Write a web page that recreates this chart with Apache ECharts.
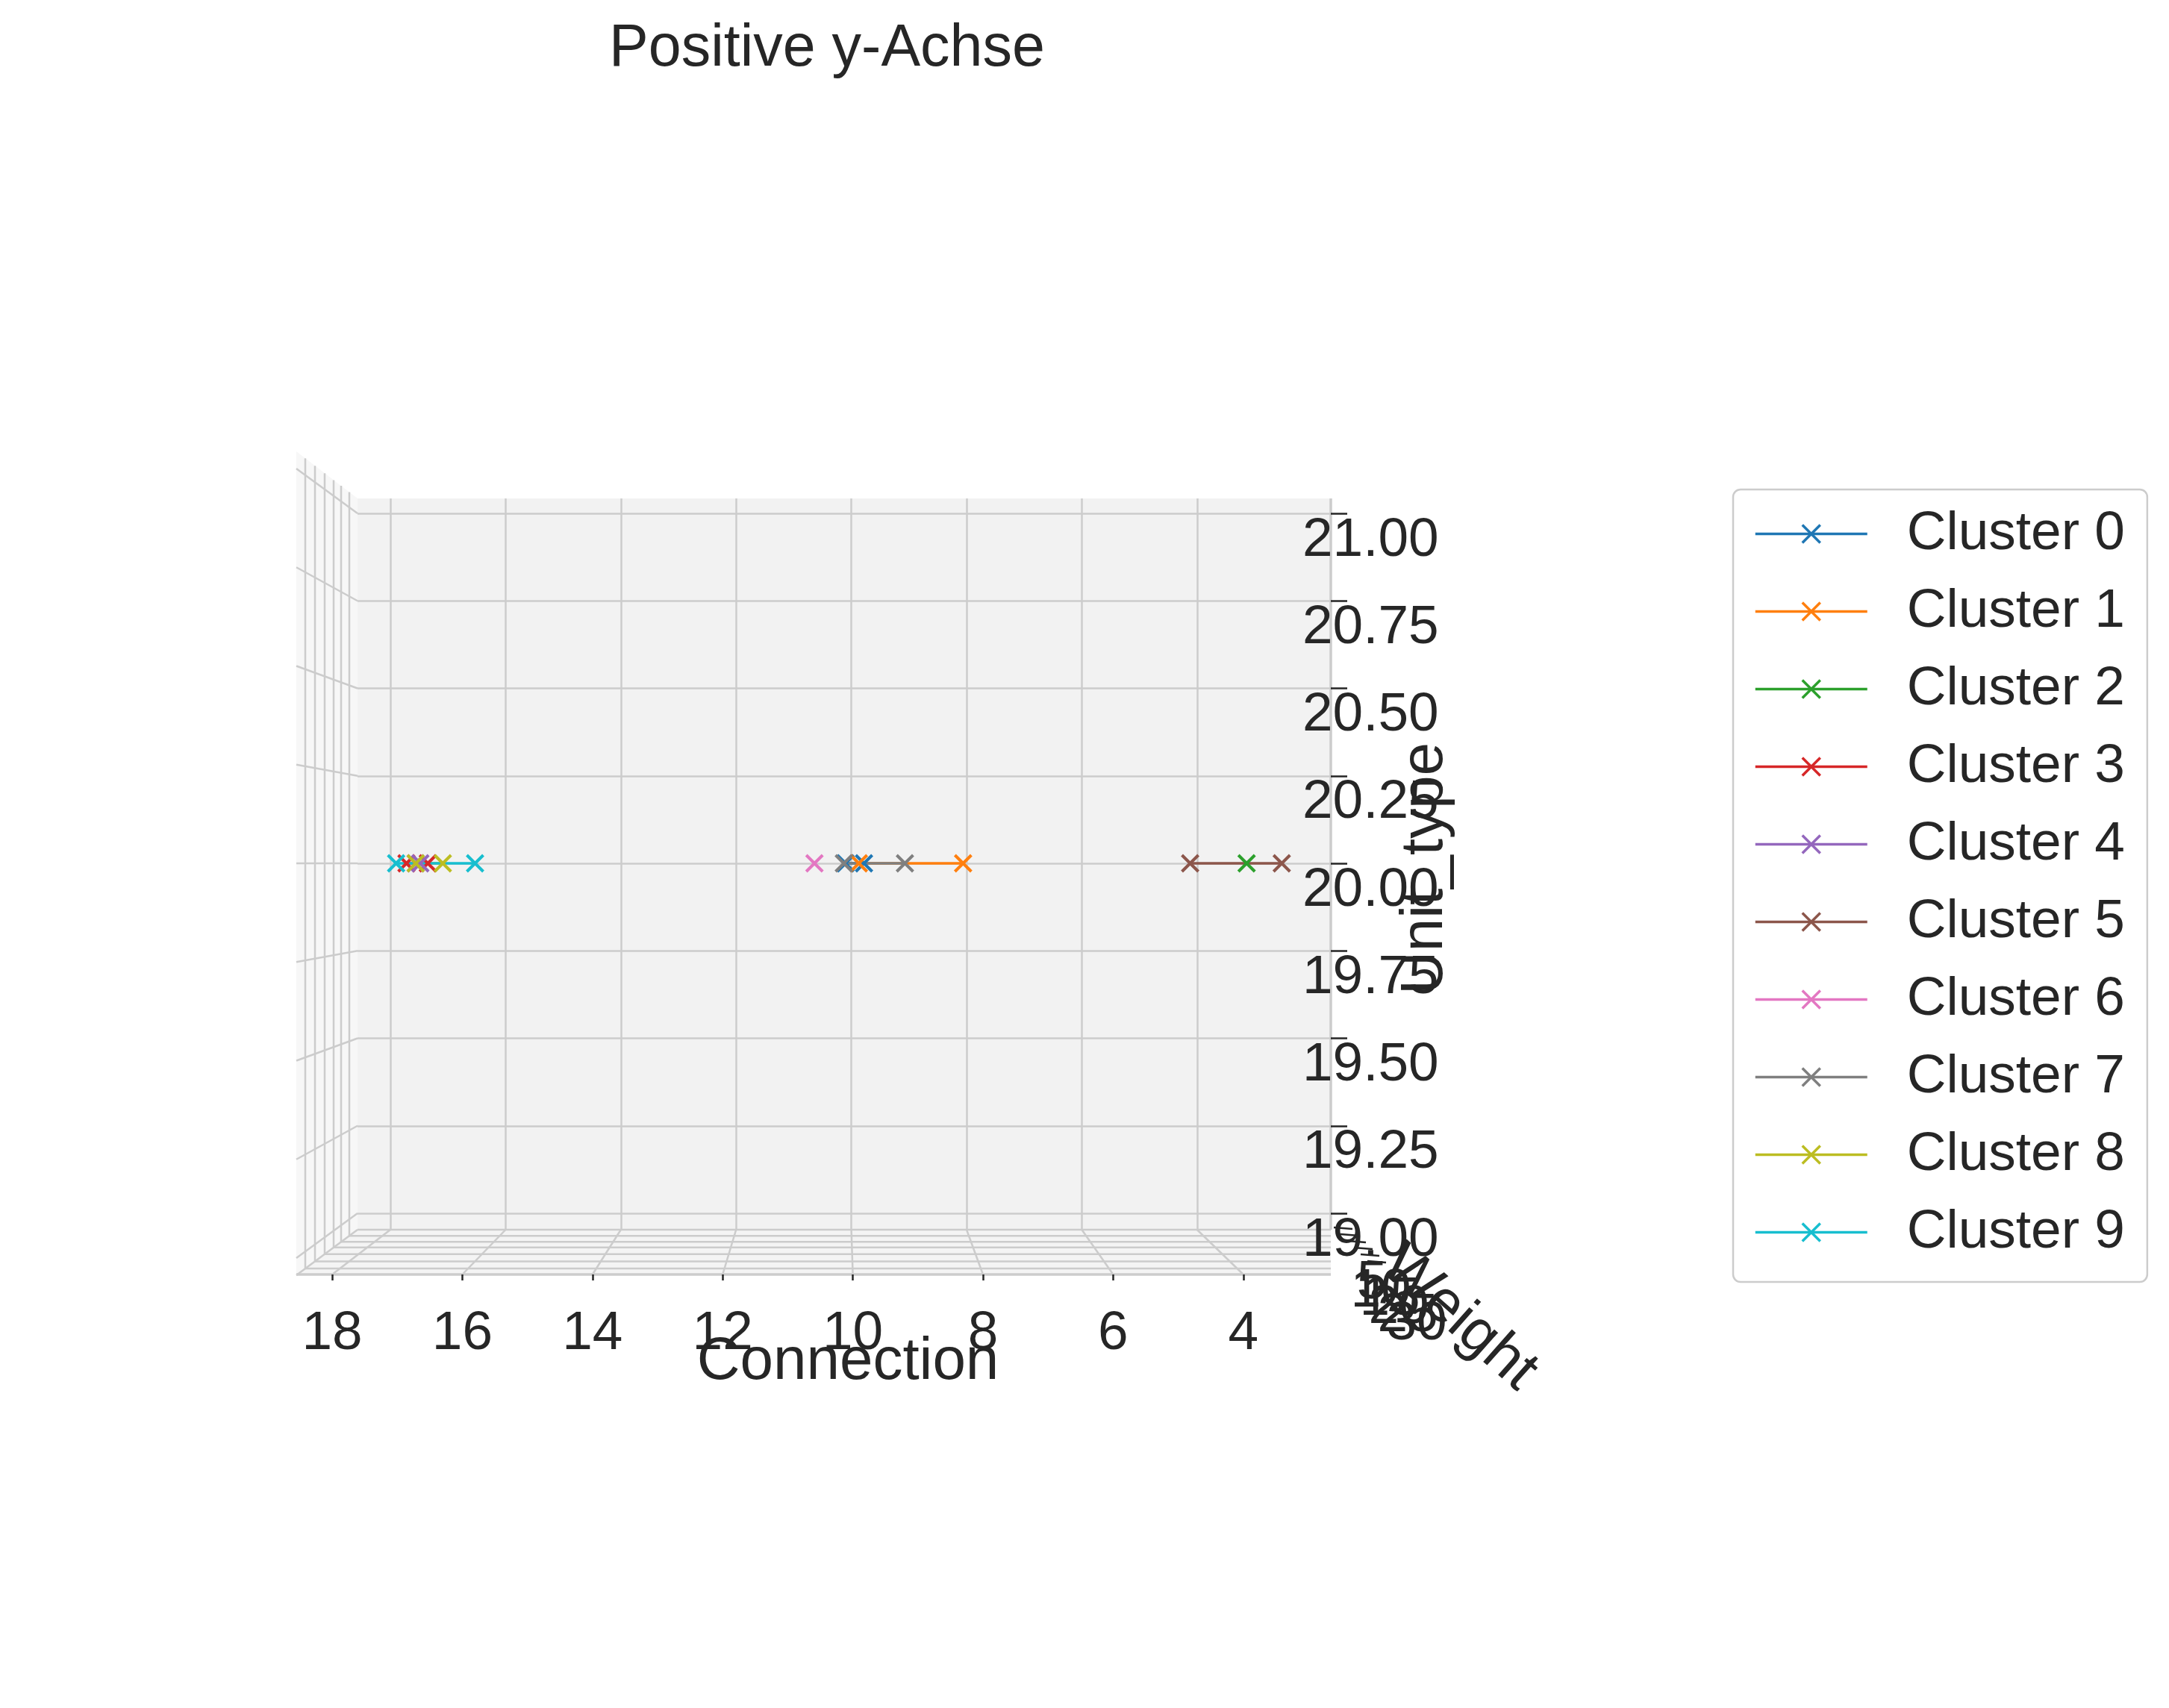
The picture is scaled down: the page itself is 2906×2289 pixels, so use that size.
<!DOCTYPE html>
<html>
<head>
<meta charset="utf-8">
<script src="https://cdn.jsdelivr.net/npm/echarts@6/dist/echarts.min.js"></script>
<style>
  html, body { margin: 0; padding: 0; background: #fff; }
  #chart { width: 2906px; height: 2289px; }
</style>
</head>
<body>
<div id="chart"></div>
<script>
// ---- data ----
var clusterNames = ['Cluster 0', 'Cluster 1', 'Cluster 2', 'Cluster 3', 'Cluster 4',
                    'Cluster 5', 'Cluster 6', 'Cluster 7', 'Cluster 8', 'Cluster 9'];
var clusterColors = ['#1f77b4', '#ff7f0e', '#2ca02c', '#d62728', '#9467bd',
                     '#8c564b', '#e377c2', '#7f7f7f', '#bcbd22', '#17becf'];
// Connection value of each point, per cluster
var connection0 = [10.10, 9.78];
var connection1 = [9.87, 8.06];
var connection2 = [3.14];
var connection3 = [17.72, 17.35];
var connection4 = [17.56, 17.48];
var connection5 = [4.12, 2.53];
var connection6 = [10.64];
var connection7 = [10.13, 9.07];
var connection8 = [17.56, 17.09];
var connection9 = [17.90, 16.53];
var unitType = 20; // every point sits on Unit_type = 20
var connectionTicks = [18, 16, 14, 12, 10, 8, 6, 4];
var unitTypeTicks = [21.00, 20.75, 20.50, 20.25, 20.00, 19.75, 19.50, 19.25, 19.00];
var weightTicks = ['5', '10', '15', '20', '25', '30'];

var allConnection = [connection0, connection1, connection2, connection3, connection4,
                     connection5, connection6, connection7, connection8, connection9];

// ---- layout of the fake 3d box (pixels) ----
var FONT = '"Liberation Sans", Arial, sans-serif';
var TXT = '#262626';
var GRIDC = '#cccccc';
var paneL = 479, paneR = 1783, paneT = 668, paneB = 1648;
var wallL = 397, wallTop = 605, wallBot = 1709, frontB = 1708;
var back18 = 523, backUnit = 77.2;   // back plane x scale
var front18 = 445, frontUnit = 87.2; // front edge x scale
var yTop = 688, yBot = 1626;         // 21.00 / 19.00 on back plane
var yMid = 1157, wallStretch = 1.128;
var depthX = [468, 457, 447, 435, 422, 409];

var xMaxA = 18 + (back18 - paneL) / backUnit;
var xMinA = 18 - (paneR - back18) / backUnit;

function wallTopY(x) { return wallTop + (x - wallL) * (paneT - wallTop) / (paneL - wallL); }
function wallBotY(x) { return wallBot - (x - wallL) * (wallBot - paneB) / (paneL - wallL); }
function lineEl(x1, y1, x2, y2, color, w, z) {
  return { type: 'line', silent: true, z: z, shape: { x1: x1, y1: y1, x2: x2, y2: y2 },
           style: { stroke: color, lineWidth: w } };
}

var deco = [];
// pane fills
deco.push({ type: 'rect', silent: true, z: -3, shape: { x: paneL, y: paneT, width: paneR - paneL, height: paneB - paneT },
            style: { fill: '#f2f2f2' } });
deco.push({ type: 'polygon', silent: true, z: -3,
            shape: { points: [[wallL, wallTop], [paneL, paneT], [paneL, paneB], [wallL, wallBot]] },
            style: { fill: '#f7f7f7' } });
deco.push({ type: 'polygon', silent: true, z: -3,
            shape: { points: [[wallL, wallBot], [paneL, paneB], [paneR, paneB], [paneR, frontB]] },
            style: { fill: '#f4f4f4' } });
// left wall: continuation of the Unit_type grid lines
unitTypeTicks.forEach(function (t) {
  var by = yTop + (21 - t) / 2 * (yBot - yTop);
  var fy = yMid + (by - yMid) * wallStretch;
  deco.push(lineEl(paneL, by, wallL, fy, GRIDC, 2.5, -1));
});
// left wall and floor: Weight grid lines
depthX.forEach(function (x) {
  deco.push(lineEl(x, wallTopY(x), x, wallBotY(x), GRIDC, 2.5, -1));
  deco.push(lineEl(x, wallBotY(x), paneR, wallBotY(x), GRIDC, 2.5, -1));
});
deco.push(lineEl(paneL, paneB, paneR, paneB, GRIDC, 2.5, -1));
deco.push(lineEl(wallL, frontB, paneR, frontB, GRIDC, 3.5, -1));
deco.push(lineEl(wallL, wallBot, paneL, paneB, GRIDC, 2.5, -1));
deco.push(lineEl(paneR, paneT, paneR, paneB, GRIDC, 3.5, -1));
// floor: Connection grid lines running to the front ticks
connectionTicks.forEach(function (v) {
  deco.push(lineEl(back18 + (18 - v) * backUnit, paneB, front18 + (18 - v) * frontUnit, frontB, GRIDC, 2.5, -1));
});
// Weight axis: crowded ticks and labels at the corner
weightTicks.forEach(function (lab, k) {
  deco.push(lineEl(1787 + 9 * k, 1645 + 9 * k, 1812 + 9 * k, 1647 + 9 * k, TXT, 2.5, 5));
  deco.push({ type: 'text', silent: true, z: 5, x: 1838 + 12 * k, y: 1720 + 11 * k,
              style: { text: lab, fill: TXT, font: '73px ' + FONT, align: 'center', verticalAlign: 'middle' } });
});
// axis names
deco.push({ type: 'text', silent: true, z: 5, x: 1136, y: 1826,
            style: { text: 'Connection', fill: TXT, font: '80px ' + FONT, align: 'center', verticalAlign: 'middle' } });
deco.push({ type: 'text', silent: true, z: 5, x: 1910, y: 1164, rotation: Math.PI / 2,
            style: { text: 'Unit_type', fill: TXT, font: '80px ' + FONT, align: 'center', verticalAlign: 'middle' } });
deco.push({ type: 'text', silent: true, z: 5, x: 1955, y: 1767, rotation: -41.5 * Math.PI / 180,
            style: { text: 'Weight', fill: TXT, font: '80px ' + FONT, align: 'center', verticalAlign: 'middle' } });

var X_SYMBOL = 'path://M0,0L10,10M10,0L0,10';

var series = allConnection.map(function (xs, i) {
  return {
    type: 'line',
    name: clusterNames[i],
    xAxisIndex: 0,
    yAxisIndex: 0,
    z: i === 2 ? 4 : 2,
    data: xs.map(function (x) { return [x, unitType]; }),
    symbol: X_SYMBOL,
    symbolSize: 22,
    showSymbol: true,
    color: clusterColors[i],
    lineStyle: { color: clusterColors[i], width: 3.5 },
    itemStyle: { color: clusterColors[i], borderColor: clusterColors[i], borderWidth: 4 },
    emphasis: { disabled: true },
    animation: false
  };
});

var chart = echarts.init(document.getElementById('chart'));
chart.setOption({
  backgroundColor: '#ffffff',
  animation: false,
  title: {
    text: 'Positive y-Achse',
    left: 1103, top: 22, textAlign: 'center',
    textStyle: { fontSize: 79, fontWeight: 'normal', color: TXT, fontFamily: FONT }
  },
  legend: {
    orient: 'vertical',
    left: 2322, top: 656,
    padding: [23, 30, 30, 28],
    itemWidth: 150, itemHeight: 30, itemGap: 31,
    data: clusterNames,
    lineStyle: { width: 3.5 },
    itemStyle: { borderWidth: 3.5 },
    textStyle: { fontSize: 73, fontFamily: FONT, color: TXT, lineHeight: 72, padding: [0, 0, 0, 48] },
    borderColor: '#cccccc', borderWidth: 2.5, borderRadius: 10,
    backgroundColor: '#ffffff',
    selectedMode: false
  },
  grid: [
    // data plane (back pane)
    { left: paneL, top: yTop, width: paneR - paneL, height: yBot - yTop, outerBoundsMode: 'none' },
    // back vertical grid lines
    { left: back18, top: paneT, width: 14 * backUnit, height: paneB - paneT, outerBoundsMode: 'none' },
    // front Connection axis
    { left: front18, top: frontB - 100, width: 14 * frontUnit, height: 100, outerBoundsMode: 'none' }
  ],
  xAxis: [
    { type: 'value', gridIndex: 0, min: xMinA, max: xMaxA, inverse: true, show: false },
    { type: 'value', gridIndex: 1, min: 4, max: 18, interval: 2, inverse: true,
      axisLine: { show: false }, axisTick: { show: false }, axisLabel: { show: false },
      splitLine: { show: true, lineStyle: { color: GRIDC, width: 2.5 } } },
    { type: 'value', gridIndex: 2, min: 4, max: 18, interval: 2, inverse: true,
      axisLine: { show: false },
      axisTick: { show: true, length: 8, lineStyle: { color: TXT, width: 2.5 } },
      axisLabel: { show: true, margin: 43, fontSize: 73, fontFamily: FONT, color: TXT },
      splitLine: { show: false } }
  ],
  yAxis: [
    { type: 'value', gridIndex: 0, min: 19, max: 21, interval: 0.25, position: 'right',
      axisLine: { show: false },
      axisTick: { show: true, length: 22, lineStyle: { color: TXT, width: 2.5 } },
      axisLabel: { show: true, margin: -38, align: 'left', verticalAlign: 'top',
                   fontSize: 73, fontFamily: FONT, color: TXT,
                   formatter: function (v) { return v.toFixed(2); } },
      splitLine: { show: true, lineStyle: { color: GRIDC, width: 2.5 } } },
    { type: 'value', gridIndex: 1, min: 0, max: 1, show: false },
    { type: 'value', gridIndex: 2, min: 0, max: 1, show: false }
  ],
  graphic: { elements: deco },
  series: series
});
</script>
</body>
</html>
